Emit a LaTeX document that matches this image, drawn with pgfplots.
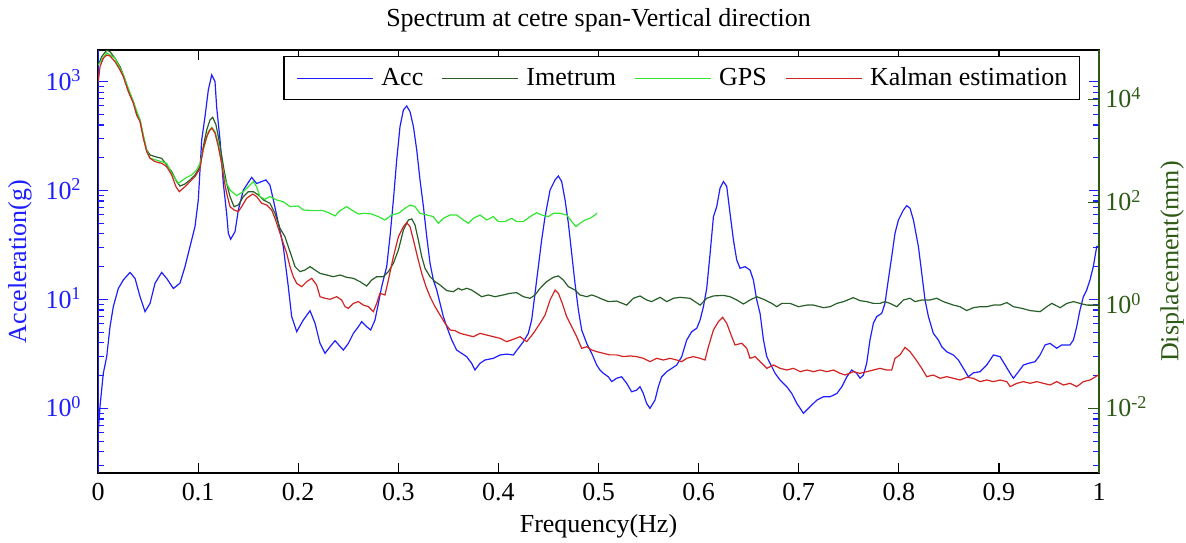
\documentclass[border=0pt]{standalone}
\usepackage{fontspec}
\setmainfont{Liberation Serif}
\usepackage{pgfplots}
\pgfplotsset{compat=1.18}
\definecolor{acc}{RGB}{30,30,255}
\definecolor{imet}{RGB}{40,95,40}
\definecolor{gps}{RGB}{50,230,50}
\definecolor{kal}{RGB}{210,35,35}
\definecolor{dispgreen}{RGB}{45,90,20}
\newcommand{\fs}{\fontsize{13}{15}\selectfont}
\begin{document}
\begin{tikzpicture}
\begin{axis}[
  scale only axis, width=500.5pt, height=211.5pt,
  xmin=0, xmax=1, ymode=log, ymin=0.255, ymax=1950,
  xtick={0,0.1,0.2,0.3,0.4,0.5,0.6,0.7,0.8,0.9,1},
  xticklabels={0,0.1,0.2,0.3,0.4,0.5,0.6,0.7,0.8,0.9,1},
  ytick={1,10,100,1000},
  yticklabels={10\textsuperscript{0},10\textsuperscript{1},10\textsuperscript{2},10\textsuperscript{3}},
  minor ytick={0.3,0.4,0.5,0.6,0.7,0.8,0.9,2,3,4,5,6,7,8,9,20,30,40,50,60,70,80,90,200,300,400,500,600,700,800,900},
  tick align=inside, major tick length=5pt, minor tick length=2.8pt,
  xtick pos=both, ytick pos=both,
  y tick style={acc, line width=0.6pt}, x tick style={black, line width=0.6pt},
  minor y tick style={acc, line width=0.6pt},
  tick label style={font=\fs},
  yticklabel style={text=acc, anchor=base east, inner sep=0pt, xshift=-8pt, yshift=-4.3pt},
  xticklabel style={anchor=north, inner sep=0pt, yshift=-5pt},
  ylabel={Acceleration(g)},
  every axis y label/.style={at={(axis description cs:-0.0659,0.5)}, rotate=90, anchor=south, inner sep=0pt, text=acc, font=\fs},
  xlabel={Frequency(Hz)},
  every axis x label/.style={at={(axis description cs:0.5,0)}, anchor=north, inner sep=0pt, yshift=-20.5pt, font=\fs},
  title={Spectrum at cetre span-Vertical direction},
  every axis title/.style={at={(axis description cs:0.5,1)}, anchor=base, inner sep=0pt, yshift=11.5pt, font=\fs},
  axis line style={black, line width=0.75pt},
]
\coordinate (SW) at (rel axis cs:0,0);
\addplot[acc, line width=0.6pt] coordinates {
(0.0000,0.55) (0.002,1.04) (0.0053,2.10) (0.0087,2.98) (0.012,5.62) (0.0153,8.59) (0.0203,12.6) (0.0253,15.1) (0.032,17.7) (0.037,15.6) (0.042,10.6) (0.047,7.72) (0.052,9.21) (0.057,14.1) (0.0636,17.7) (0.0686,15.6) (0.0753,12.6) (0.0819,14.1) (0.0869,20.0) (0.0919,30.5) (0.0969,46.6) (0.1002,81.8) (0.1036,291) (0.1069,477) (0.1102,838) (0.1136,1150) (0.1169,1000) (0.1185,589) (0.1219,291) (0.1252,116) (0.1285,61.8) (0.1302,40.5) (0.1325,35.7) (0.1369,41.9) (0.1402,66.2) (0.1452,101) (0.1535,132) (0.1585,116) (0.1635,121) (0.1678,125) (0.1718,112) (0.1752,81.8) (0.1802,50.0) (0.1851,30.5) (0.1901,13.1) (0.1935,6.95) (0.1985,5.06) (0.2051,6.47) (0.2118,7.88) (0.2168,6.04) (0.2218,3.95) (0.2268,3.20) (0.2318,3.68) (0.2368,4.18) (0.2451,3.43) (0.2501,3.95) (0.2551,4.88) (0.2601,5.62) (0.2634,6.25) (0.2684,5.62) (0.2724,5.24) (0.2767,6.47) (0.2801,9.21) (0.2834,13.1) (0.2884,20.0) (0.2917,37.7) (0.2951,81.8) (0.2984,191) (0.3017,386) (0.3051,549) (0.3084,597) (0.3117,530) (0.3151,386) (0.3184,236) (0.3217,125) (0.3251,71.1) (0.3284,37.7) (0.3317,21.5) (0.3350,15.1) (0.3384,12.2) (0.3417,9.21) (0.3450,6.95) (0.3484,5.62) (0.3534,4.24) (0.3583,3.43) (0.3633,3.20) (0.3683,2.98) (0.3733,2.59) (0.3766,2.25) (0.3816,2.59) (0.3866,2.78) (0.3949,2.88) (0.4016,3.09) (0.4083,3.15) (0.4149,3.09) (0.4199,3.56) (0.4249,4.09) (0.4299,4.88) (0.4332,6.47) (0.4366,11.4) (0.4399,20.0) (0.4432,35.1) (0.4466,57.5) (0.4516,101) (0.4566,125) (0.4599,136) (0.4632,121) (0.4666,81.8) (0.4699,50.0) (0.4732,26.5) (0.4765,14.1) (0.4799,8.00) (0.4832,5.24) (0.4882,3.95) (0.4932,3.20) (0.4982,2.50) (0.5015,2.25) (0.5048,2.10) (0.5098,1.95) (0.5132,1.76) (0.5181,1.89) (0.5231,1.95) (0.5281,1.70) (0.5331,1.42) (0.5381,1.47) (0.5415,1.58) (0.5448,1.37) (0.5481,1.11) (0.5514,1.00) (0.5564,1.19) (0.5598,1.58) (0.5631,1.95) (0.5681,2.17) (0.5731,2.33) (0.5781,2.50) (0.5831,2.98) (0.5881,4.24) (0.5931,5.06) (0.5981,5.43) (0.6015,6.47) (0.6048,8.59) (0.6081,12.6) (0.6115,26.5) (0.6148,57.5) (0.6181,71.1) (0.6214,105) (0.6248,121) (0.6281,109) (0.6314,61.8) (0.6348,35.1) (0.6381,23.0) (0.6414,19.3) (0.6464,20.0) (0.6514,18.6) (0.6547,15.1) (0.6581,9.88) (0.6614,7.45) (0.6648,4.24) (0.6681,2.98) (0.6714,2.59) (0.6764,2.10) (0.6814,1.82) (0.6881,1.58) (0.6931,1.37) (0.6981,1.11) (0.7048,0.90) (0.7115,1.04) (0.7181,1.19) (0.7248,1.28) (0.7315,1.28) (0.7381,1.37) (0.7431,1.58) (0.7481,1.95) (0.7529,2.25) (0.7579,2.10) (0.7613,1.89) (0.7646,2.02) (0.7679,2.59) (0.7712,4.24) (0.7746,6.04) (0.7779,6.95) (0.7829,7.45) (0.7862,9.21) (0.7895,15.1) (0.7929,24.7) (0.7962,40.5) (0.7996,53.6) (0.8046,66.2) (0.8079,72.6) (0.8112,68.7) (0.8146,53.6) (0.8196,30.5) (0.8229,17.4) (0.8262,9.88) (0.8296,6.95) (0.8345,4.88) (0.8395,4.24) (0.8429,3.68) (0.8479,3.31) (0.8545,3.09) (0.8595,2.78) (0.8645,2.33) (0.8695,1.95) (0.8745,2.12) (0.8812,2.17) (0.8878,2.50) (0.8945,3.09) (0.9012,2.98) (0.9062,2.50) (0.9112,2.10) (0.9145,1.89) (0.9195,2.17) (0.9245,2.50) (0.9295,2.59) (0.9361,2.68) (0.9411,3.09) (0.9461,3.82) (0.9511,3.95) (0.9577,3.56) (0.9627,3.82) (0.9710,3.82) (0.9744,4.24) (0.9777,5.62) (0.9810,8.00) (0.9844,10.6) (0.9877,12.2) (0.9910,15.1) (0.9943,20.0) (0.9977,30.5) (1.0,31)
};
\draw[acc, line width=0.75pt] (rel axis cs:0,0) -- (rel axis cs:0,1);
\end{axis}
\begin{axis}[
  scale only axis, width=500.5pt, height=211.5pt,
  xmin=0, xmax=1, hide x axis, axis y line*=right,
  ymode=log, ymin=5.55e-4, ymax=90600,
  ytick={0.01,1,100,10000},
  yticklabels={10\textsuperscript{-2},10\textsuperscript{0},10\textsuperscript{2},10\textsuperscript{4}},
  yminorticks=false,
  tick align=inside, major tick length=5.5pt,
  y tick style={dispgreen, line width=0.6pt},
  axis line style={dispgreen, line width=0.75pt},
  tick label style={font=\fs},
  yticklabel style={text=dispgreen, anchor=base west, inner sep=0pt, xshift=3pt, yshift=-4.3pt},
  ylabel={Displacement(mm)},
  every axis y label/.style={at={(axis description cs:1.0609,0.5)}, rotate=90, anchor=north, inner sep=0pt, text=dispgreen, font=\fs},
  legend columns=4,
  legend image code/.code={\draw[#1] (0pt,0pt) -- (38pt,0pt);},
  legend style={at={(axis description cs:0.981,0.986)}, anchor=north east, draw=black, line width=0.75pt, fill=white,
    font=\fs, inner xsep=6pt, inner ysep=4pt,
    nodes={inner xsep=0pt, inner ysep=1.5pt},
    /tikz/every odd column/.append style={column sep=4pt},
    /tikz/every even column/.append style={column sep=9pt}},
]
\addlegendimage{acc, line width=0.6pt}
\addlegendentry{Acc}
\addplot[imet, line width=0.6pt] coordinates {
(0.0003,46400) (0.0037,67300) (0.0087,90000) (0.012,84300) (0.017,62500) (0.022,43100) (0.0253,29700) (0.0303,15200) (0.0353,9010) (0.0386,5350) (0.042,3970) (0.0453,1880) (0.0486,1040) (0.052,830) (0.057,771) (0.0636,715) (0.0686,531) (0.0736,394) (0.0786,252) (0.0819,207) (0.0869,227) (0.0919,272) (0.0969,340) (0.1019,493) (0.1052,1210) (0.1086,2540) (0.1119,3970) (0.1146,4470) (0.1179,3180) (0.1202,1880) (0.1235,830) (0.1259,425) (0.1285,234) (0.1319,129) (0.1359,82.4) (0.1402,88.8) (0.1452,129) (0.1502,161) (0.1552,161) (0.1602,139) (0.1652,111) (0.1718,95.7) (0.1768,61.1) (0.1818,31.3) (0.1868,21.5) (0.1901,13.8) (0.1935,8.81) (0.1968,5.64) (0.2018,4.51) (0.2068,4.85) (0.2118,5.64) (0.2168,4.85) (0.2218,4.18) (0.2284,3.88) (0.2351,3.60) (0.2418,3.88) (0.2484,3.50) (0.2551,3.34) (0.2617,2.88) (0.2684,2.37) (0.2734,3.10) (0.2784,3.60) (0.2851,3.60) (0.2901,4.51) (0.2951,6.54) (0.3001,11.9) (0.3051,29.0) (0.3101,45.4) (0.3134,47.5) (0.3167,36.3) (0.3200,18.6) (0.3234,8.81) (0.3267,5.23) (0.3317,3.60) (0.3367,2.88) (0.3417,2.48) (0.3484,1.93) (0.3550,1.84) (0.3600,2.14) (0.3633,1.98) (0.3683,2.14) (0.3733,1.98) (0.3783,1.71) (0.3833,1.47) (0.3899,1.59) (0.3966,1.47) (0.4049,1.59) (0.4116,1.71) (0.4183,1.76) (0.4249,1.47) (0.4316,1.37) (0.4366,1.59) (0.4416,2.14) (0.4482,2.88) (0.4549,3.50) (0.4599,3.72) (0.4649,3.10) (0.4699,2.30) (0.4765,1.98) (0.4815,1.59) (0.4882,1.47) (0.4932,1.59) (0.4982,1.47) (0.5015,1.37) (0.5098,1.18) (0.5181,1.21) (0.5281,1.01) (0.5348,1.37) (0.5415,1.52) (0.5481,1.27) (0.5531,1.18) (0.5615,1.43) (0.5681,1.18) (0.5748,1.37) (0.5814,1.43) (0.5914,1.37) (0.6015,1.01) (0.6081,1.37) (0.6148,1.52) (0.6248,1.56) (0.6314,1.47) (0.6381,1.27) (0.6448,1.06) (0.6514,1.27) (0.6581,1.47) (0.6648,1.31) (0.6731,1.09) (0.6781,0.94) (0.6831,1.09) (0.6915,1.09) (0.6998,0.94) (0.7081,1.01) (0.7148,1.01) (0.7248,0.90) (0.7315,0.94) (0.7381,1.09) (0.7448,1.18) (0.7546,1.41) (0.7613,1.23) (0.7679,1.18) (0.7746,1.09) (0.7812,1.09) (0.7862,1.18) (0.7912,1.09) (0.7979,0.94) (0.8046,1.27) (0.8112,1.37) (0.8162,1.18) (0.8229,1.27) (0.8312,1.27) (0.8379,1.37) (0.8445,1.18) (0.8545,1.01) (0.8612,0.94) (0.8678,0.79) (0.8745,0.90) (0.8812,0.94) (0.8878,0.94) (0.8945,1.01) (0.9012,1.01) (0.9079,1.13) (0.9145,0.94) (0.9228,0.875) (0.9312,0.79) (0.9412,0.753) (0.9478,0.94) (0.9528,1.09) (0.9612,0.90) (0.9678,1.09) (0.9744,1.18) (0.9810,1.09) (0.9877,1.01) (0.9977,1.01)
};
\addlegendentry{Imetrum}
\addplot[gps, line width=0.6pt] coordinates {
(0.0003,46400) (0.0087,80000) (0.017,62500) (0.0253,29700) (0.0353,9010) (0.042,3970) (0.0486,1040) (0.052,715) (0.0636,616) (0.0686,572) (0.0736,366) (0.0803,234) (0.0869,292) (0.0936,340) (0.0986,425) (0.1019,572) (0.1052,1040) (0.1102,2350) (0.1136,2860) (0.1169,2350) (0.1202,1400) (0.1235,572) (0.1269,272) (0.1319,173) (0.1385,135) (0.1452,161) (0.1502,201) (0.1552,252) (0.1585,201) (0.1618,129) (0.1668,114) (0.1718,129) (0.1785,111) (0.1851,103) (0.1918,82.4) (0.2001,84.9) (0.2051,71.0) (0.2151,68.9) (0.2251,68.9) (0.2318,61.1) (0.2368,54.3) (0.2418,68.9) (0.2484,82.4) (0.2534,71.0) (0.2601,59.3) (0.2667,61.1) (0.2734,59.3) (0.2801,52.7) (0.2867,45.4) (0.2934,56.8) (0.3001,61.1) (0.3067,76.4) (0.3117,88.8) (0.3167,82.4) (0.3217,61.1) (0.3284,56.8) (0.3350,52.7) (0.3400,39.1) (0.3450,48.9) (0.3517,56.8) (0.3583,56.8) (0.3650,45.4) (0.3700,39.1) (0.3750,48.9) (0.3816,56.8) (0.3883,45.4) (0.3949,52.7) (0.3999,42.2) (0.4066,42.2) (0.4133,48.9) (0.4183,42.2) (0.4249,42.2) (0.4316,52.7) (0.4382,62.9) (0.4432,56.8) (0.4499,52.7) (0.4549,61.1) (0.4615,61.1) (0.4682,56.8) (0.4732,42.2) (0.4775,33.7) (0.4815,39.1) (0.4865,45.4) (0.4915,48.9) (0.4965,56.8) (0.4985,62)
};
\addlegendentry{GPS}
\addplot[kal, line width=0.6pt] coordinates {
(0.0003,22000) (0.002,43100) (0.0053,62500) (0.0087,72600) (0.012,69300) (0.017,53800) (0.022,37100) (0.0253,27500) (0.0303,14100) (0.0353,8360) (0.0386,4960) (0.042,3680) (0.0453,1750) (0.0486,964) (0.052,715) (0.057,616) (0.0636,572) (0.0686,493) (0.0736,340) (0.0779,201) (0.0812,161) (0.0869,201) (0.0919,252) (0.0969,315) (0.1019,457) (0.1052,1120) (0.1086,1880) (0.1119,2540) (0.1139,2740) (0.1169,2190) (0.1202,1210) (0.1235,572) (0.1259,272) (0.1285,150) (0.1319,82.4) (0.1359,71.0) (0.1402,65.9) (0.1435,82.4) (0.1485,120) (0.1545,145) (0.1585,129) (0.1635,95.7) (0.1685,88.8) (0.1735,71.0) (0.1768,48.9) (0.1802,31.3) (0.1851,16.0) (0.1885,10.2) (0.1918,5.64) (0.1951,3.60) (0.1985,2.67) (0.2035,2.30) (0.2085,2.88) (0.2135,3.34) (0.2184,2.48) (0.2218,1.47) (0.2268,1.37) (0.2318,1.31) (0.2384,1.47) (0.2434,1.27) (0.2468,0.94) (0.2501,0.875) (0.2551,1.09) (0.2601,1.18) (0.2651,1.01) (0.2701,0.94) (0.2751,0.753) (0.2784,1.09) (0.2817,1.71) (0.2867,1.59) (0.2901,3.10) (0.2951,8.81) (0.3001,21.5) (0.3051,33.7) (0.3084,40.3) (0.3117,33.7) (0.3151,18.6) (0.3191,8.81) (0.3234,4.18) (0.3277,2.30) (0.3317,1.47) (0.3367,0.94) (0.3417,0.648) (0.3467,0.447) (0.3517,0.332) (0.3567,0.322) (0.3617,0.286) (0.3683,0.265) (0.3750,0.246) (0.3816,0.286) (0.3883,0.265) (0.3949,0.246) (0.4016,0.229) (0.4083,0.197) (0.4149,0.219) (0.4216,0.246) (0.4283,0.197) (0.4349,0.286) (0.4416,0.447) (0.4466,0.648) (0.4516,1.27) (0.4566,1.98) (0.4599,1.71) (0.4632,1.18) (0.4682,0.603) (0.4732,0.385) (0.4782,0.246) (0.4832,0.146) (0.4882,0.157) (0.4932,0.136) (0.4982,0.126) (0.5048,0.117) (0.5115,0.109) (0.5181,0.109) (0.5248,0.101) (0.5315,0.104) (0.5381,0.101) (0.5448,0.0935) (0.5515,0.0806) (0.5581,0.0935) (0.5648,0.0868) (0.5715,0.0935) (0.5781,0.0868) (0.5831,0.0806) (0.5881,0.0935) (0.5948,0.101) (0.6015,0.0935) (0.6064,0.0868) (0.6098,0.157) (0.6148,0.332) (0.6198,0.482) (0.6241,0.585) (0.6281,0.447) (0.6331,0.246) (0.6364,0.170) (0.6431,0.183) (0.6481,0.146) (0.6514,0.0935) (0.6564,0.101) (0.6614,0.0806) (0.6681,0.0598) (0.6748,0.0694) (0.6814,0.0598) (0.6881,0.0555) (0.6948,0.0598) (0.7015,0.0515) (0.7081,0.0555) (0.7148,0.0515) (0.7215,0.0555) (0.7281,0.0515) (0.7348,0.0555) (0.7415,0.0478) (0.7465,0.0444) (0.7546,0.0515) (0.7613,0.0478) (0.7679,0.0515) (0.7746,0.0555) (0.7812,0.0598) (0.7879,0.0555) (0.7929,0.0555) (0.7962,0.0935) (0.8012,0.109) (0.8062,0.153) (0.8112,0.126) (0.8162,0.0935) (0.8229,0.0598) (0.8279,0.0412) (0.8345,0.0444) (0.8412,0.0383) (0.8479,0.0412) (0.8545,0.0383) (0.8612,0.0355) (0.8678,0.0400) (0.8745,0.0383) (0.8812,0.0330) (0.8878,0.0355) (0.8945,0.0330) (0.9012,0.0355) (0.9079,0.0330) (0.9112,0.0264) (0.9179,0.0306) (0.9245,0.0330) (0.9312,0.0306) (0.9378,0.0330) (0.9445,0.0306) (0.9512,0.0284) (0.9578,0.0330) (0.9645,0.0284) (0.9712,0.0306) (0.9778,0.0264) (0.9844,0.0330) (0.9911,0.0355) (0.9994,0.0444)
};
\addlegendentry{Kalman estimation}
\end{axis}
\path (SW) ++(-49pt,-34.5pt) rectangle ++(593pt,271pt);
\end{tikzpicture}
\end{document}
